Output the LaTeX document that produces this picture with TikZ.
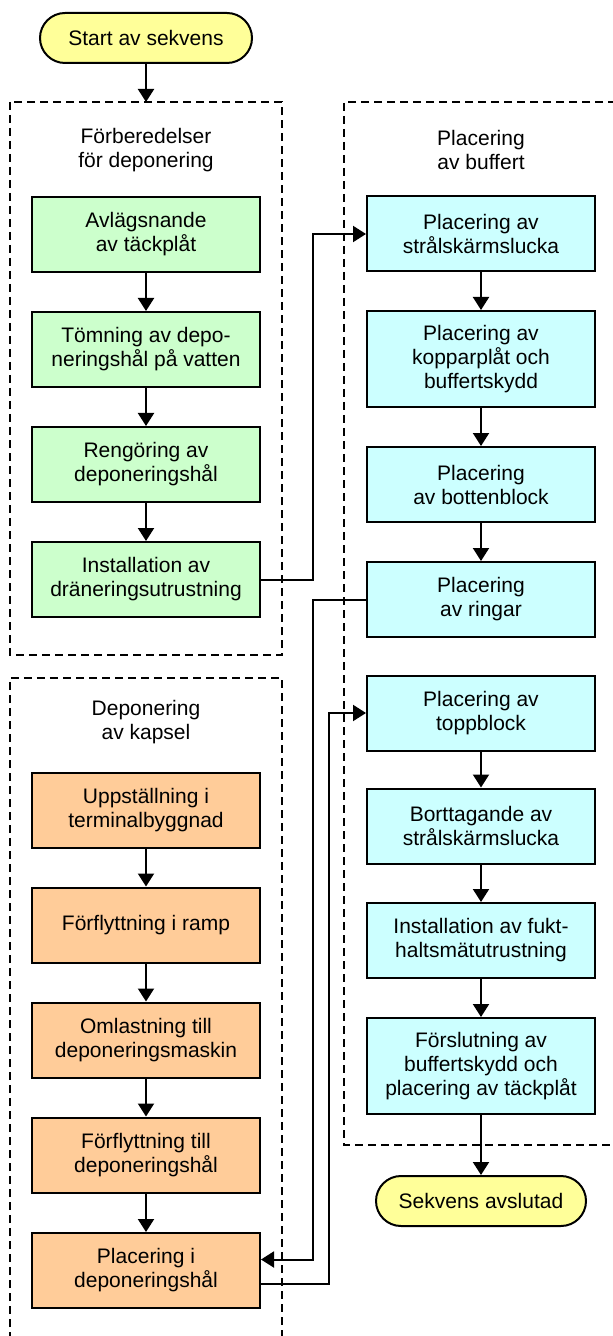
\documentclass[tikz,border=0pt]{standalone}
\usepackage{fontspec}
\setmainfont{Liberation Sans}
\usetikzlibrary{arrows.meta}
\definecolor{termfill}{HTML}{FFFF99}
\definecolor{prepfill}{HTML}{CCFFCC}
\definecolor{capfill}{HTML}{FFCC99}
\definecolor{buffill}{HTML}{CCFFFF}

\begin{document}
\begin{tikzpicture}[x=0.5pt,y=-0.5pt,
  every node/.style={font=\fontsize{10.5}{12}\selectfont, align=center},
  stepbox/.style={draw, line width=1pt, minimum width=114pt, minimum height=37.5pt, inner sep=2pt},
  tallbox/.style={stepbox, minimum height=48pt},
  termbox/.style={draw, line width=1pt, fill=termfill, rounded corners=12.5pt, minimum width=106pt, minimum height=25pt},
  arr/.style={line width=1pt, -{Triangle[length=6.5pt,width=8pt]}},
  frame/.style={line width=0.8pt, dash pattern=on 4pt off 2.5pt}]
\useasboundingbox (0,0) rectangle (612,1336);

\draw[frame] (10,102) rectangle (282,655);
\draw[frame] (10,1340) -- (10,678) -- (282,678) -- (282,1340);
\draw[frame] (616,102) -- (344,102) -- (344,1145) -- (616,1145);

\node[termbox] (start) at (146,38) {Start av sekvens};
\coordinate (f1in) at (146,102);

\node at (146,150) {Förberedelser\\för deponering};
\node[stepbox, fill=prepfill] (g1) at (146,234.5) {Avlägsnande\\av täckplåt};
\node[stepbox, fill=prepfill] (g2) at (146,349.5) {Tömning av depo-\\neringshål på vatten};
\node[stepbox, fill=prepfill] (g3) at (146,464.5) {Rengöring av\\deponeringshål};
\node[stepbox, fill=prepfill] (g4) at (146,579.5) {Installation av\\dräneringsutrustning};

\node at (146,722) {Deponering\\av kapsel};
\node[stepbox, fill=capfill] (o1) at (146,810) {Uppställning i\\terminalbyggnad};
\node[stepbox, fill=capfill] (o2) at (146,925) {Förflyttning i ramp};
\node[stepbox, fill=capfill] (o3) at (146,1040) {Omlastning till\\deponeringsmaskin};
\node[stepbox, fill=capfill] (o4) at (146,1155) {Förflyttning till\\deponeringshål};
\node[stepbox, fill=capfill] (o5) at (146,1270.5) {Placering i\\deponeringshål};

\node at (481,150) {Placering\\av buffert};
\node[stepbox, fill=buffill] (c1) at (481,234) {Placering av\\strålskärmslucka};
\node[tallbox, fill=buffill] (c2) at (481,359) {Placering av\\kopparplåt och\\buffertskydd};
\node[stepbox, fill=buffill] (c3) at (481,484.5) {Placering\\av bottenblock};
\node[stepbox, fill=buffill] (c4) at (481,599.5) {Placering\\av ringar};
\node[stepbox, fill=buffill] (c5) at (481,713) {Placering av\\toppblock};
\node[stepbox, fill=buffill] (c6) at (481,826) {Borttagande av\\strålskärmslucka};
\node[stepbox, fill=buffill] (c7) at (481,940.5) {Installation av fukt-\\haltsmätutrustning};
\node[tallbox, fill=buffill] (c8) at (481,1066) {Förslutning av\\buffertskydd och\\placering av täckplåt};

\node[termbox, minimum width=105pt] (stop) at (481,1201) {Sekvens avslutad};

\coordinate (jog1) at (313,0);
\coordinate (jog2) at (329,0);
\coordinate (in5) at ([yshift=5.5pt]o5.east);
\coordinate (out5) at ([yshift=-6.5pt]o5.east);

\draw[arr] (start) -- (f1in);
\foreach \a/\b in {g1/g2,g2/g3,g3/g4,o1/o2,o2/o3,o3/o4,o4/o5,c1/c2,c2/c3,c3/c4,c5/c6,c6/c7,c7/c8,c8/stop}
  \draw[arr] (\a) -- (\b);
\draw[arr] (g4.east) -- (g4.east -| jog1) |- (c1.west);
\draw[arr] (c4.west) -| (jog1 |- in5) -- (in5);
\draw[arr] (out5) -| (jog2 |- c5.west) -- (c5.west);
\end{tikzpicture}
\end{document}
